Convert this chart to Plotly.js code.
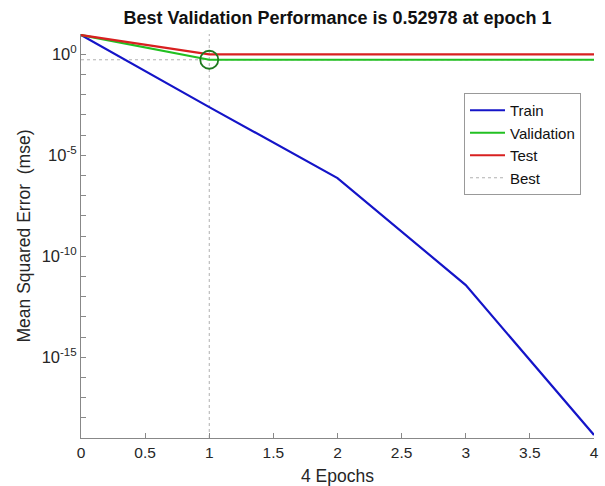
<!DOCTYPE html>
<html>
<head>
<meta charset="utf-8">
<script src="https://cdn.plot.ly/plotly-3.0.1.min.js"></script>
<style>html,body{margin:0;padding:0;background:#fff;}#chart{width:605px;height:486px;}</style>
</head>
<body>
<div id="chart"></div>
<script>
// Data
const epochs = [0, 1, 2, 3, 4];
const trainPerf = [8.9, 2.4e-3, 7.4e-7, 3.7e-12, 1.4e-19];
const valPerf = [8.9, 0.52978, 0.531, 0.531, 0.531];
const testPerf = [8.9, 0.98, 0.98, 0.98, 0.98];
const bestEpoch = 1;
const bestPerf = 0.52978;
const yLogRange = [-19, 1];
const xTickVals = [0, 0.5, 1, 1.5, 2, 2.5, 3, 3.5, 4];
const yDecades = [-18,-17,-16,-15,-14,-13,-12,-11,-10,-9,-8,-7,-6,-5,-4,-3,-2,-1,0];
const yLabelDecades = [0, -5, -10, -15];

const yTickVals = yDecades.map(d => Math.pow(10, d));
const yTickText = yDecades.map(d => yLabelDecades.includes(d) ? '10<sup>' + d + '</sup>' : '');

const font = 'Liberation Sans, Arial, Helvetica, sans-serif';
const dotColor = '#b0b0b0';

const traces = [
  {x: [bestEpoch, bestEpoch], y: [Math.pow(10, yLogRange[0]), Math.pow(10, yLogRange[1])], mode: 'lines',
   line: {color: dotColor, width: 1, dash: 'dot'}, showlegend: false, hoverinfo: 'skip'},
  {x: [epochs[0], epochs[epochs.length-1]], y: [bestPerf, bestPerf], mode: 'lines',
   line: {color: dotColor, width: 1, dash: 'dot'}, showlegend: false, hoverinfo: 'skip'},
  {x: epochs, y: trainPerf, name: 'Train', mode: 'lines', line: {color: '#1414c8', width: 2.2}},
  {x: epochs, y: valPerf, name: 'Validation', mode: 'lines', line: {color: '#22c022', width: 2.2}},
  {x: epochs, y: testPerf, name: 'Test', mode: 'lines', line: {color: '#d82020', width: 2.2}},
  {x: [null], y: [null], name: 'Best', mode: 'lines', line: {color: dotColor, width: 1, dash: 'dot'}},
  {x: [bestEpoch], y: [bestPerf], mode: 'markers', showlegend: false,
   marker: {symbol: 'circle-open', size: 18, color: '#1e7a1e', line: {width: 1.8, color: '#1e7a1e'}}}
];

const layout = {
  width: 605, height: 486,
  margin: {l: 81, r: 11, t: 34, b: 48},
  paper_bgcolor: '#ffffff', plot_bgcolor: '#ffffff',
  font: {family: font, color: '#262626'},
  title: {text: '<b>Best Validation Performance is 0.52978 at epoch 1</b>', font: {size: 18, color: '#111'},
          x: 0.5, xref: 'paper', xanchor: 'center', y: 1 - 18/486, yref: 'container', yanchor: 'middle'},
  xaxis: {range: [0, 4], tickvals: xTickVals, ticktext: xTickVals.map(String),
          ticks: 'inside', ticklen: 5, tickcolor: '#888', showline: true, linecolor: '#888', linewidth: 1,
          showgrid: false, zeroline: false, mirror: false, tickfont: {size: 15.5},
          title: {text: '4 Epochs', font: {size: 17.5}, standoff: 11}},
  yaxis: {type: 'log', range: yLogRange, tickvals: yTickVals, ticktext: yTickText,
          ticks: 'inside', ticklen: 5, tickcolor: '#888', showline: true, linecolor: '#888', linewidth: 1,
          showgrid: false, zeroline: false, mirror: false, tickfont: {size: 16.5},
          title: {text: 'Mean Squared Error  (mse)', font: {size: 17.5}, standoff: 6}},
  legend: {x: (464-81)/513, y: (438-93)/404, xanchor: 'left', yanchor: 'top',
           bgcolor: '#ffffff', bordercolor: '#999', borderwidth: 1,
           font: {size: 15, color: '#111'}, itemwidth: 35, tracegroupgap: 0},
  showlegend: true
};

Plotly.newPlot('chart', traces, layout, {staticPlot: true, displayModeBar: false});
</script>
</body>
</html>
